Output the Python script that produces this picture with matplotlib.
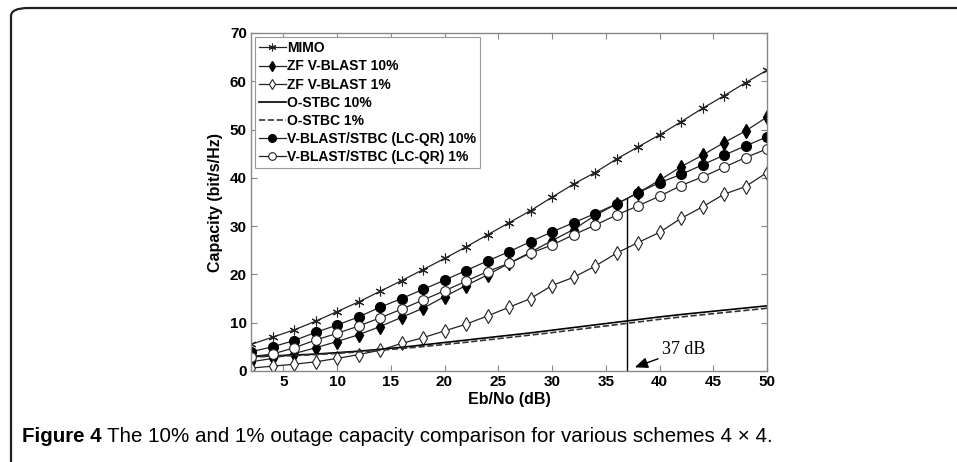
import numpy as np
import matplotlib
matplotlib.use("Agg")
import matplotlib.pyplot as plt
from matplotlib.patches import FancyBboxPatch

# Eb/No axis (dB)
ebno = np.arange(2, 51, 2)

# capacities (bit/s/Hz)
mimo = [5.5, 7.0, 8.5, 10.3, 12.3, 14.3, 16.5, 18.7, 21.0, 23.3, 25.7, 28.2, 30.7,
        33.2, 36.0, 38.7, 41.1, 43.9, 46.4, 48.9, 51.6, 54.4, 57.0, 59.7, 62.3]
zf_10 = [1.9, 2.6, 3.6, 4.8, 6.1, 7.5, 9.2, 11.1, 13.0, 15.4, 17.7, 19.9, 22.3,
         24.6, 27.0, 29.3, 32.2, 34.6, 36.9, 39.5, 42.3, 44.7, 47.3, 49.7, 52.6]
zf_1 = [0.6, 1.0, 1.4, 1.9, 2.6, 3.4, 4.3, 5.7, 6.9, 8.3, 9.7, 11.4, 13.2,
        15.0, 17.7, 19.4, 21.7, 24.4, 26.6, 28.7, 31.6, 34.0, 36.6, 38.2, 41.1]
ostbc_10 = [3.0, 3.15, 3.3, 3.5, 3.8, 4.1, 4.5, 4.9, 5.4, 5.9, 6.4, 6.9, 7.4,
            7.9, 8.45, 9.0, 9.55, 10.1, 10.65, 11.2, 11.7, 12.15, 12.6, 13.05, 13.5]
ostbc_1 = [2.9, 3.05, 3.2, 3.4, 3.65, 3.95, 4.3, 4.65, 5.05, 5.5, 5.95, 6.45, 6.95,
           7.45, 7.95, 8.5, 9.05, 9.6, 10.15, 10.7, 11.2, 11.65, 12.1, 12.55, 13.0]
lcqr_10 = [4.0, 5.0, 6.3, 8.0, 9.5, 11.2, 13.2, 15.0, 16.9, 18.8, 20.8, 22.8, 24.7,
           26.8, 28.8, 30.7, 32.6, 34.6, 36.9, 39.0, 40.7, 42.7, 44.7, 46.6, 48.5]
lcqr_1 = [3.0, 3.5, 4.8, 6.4, 7.8, 9.3, 11.0, 12.8, 14.7, 16.6, 18.6, 20.6, 22.3,
          24.4, 26.1, 28.2, 30.2, 32.3, 34.2, 36.2, 38.4, 40.2, 42.2, 44.2, 46.0]

marker_x = 37
marker_top = 35.7

plt.rcParams['font.family'] = ['Liberation Sans', 'DejaVu Sans']

fig = plt.figure(figsize=(9.57, 4.62), dpi=100)
ax = fig.add_axes([251 / 957, 1 - 371 / 462, 516 / 957, 338 / 462])

lc = '#222222'
asterisk = (6, 2, 0)
ax.plot(ebno, mimo, '-', marker=asterisk, color=lc, lw=0.9, ms=7, mec=lc, mew=0.8,
        label='MIMO')
ax.plot(ebno, zf_10, '-d', color=lc, lw=0.9, ms=7, mfc='black', mec='black',
        label='ZF V-BLAST 10%')
ax.plot(ebno, zf_1, '-d', color=lc, lw=0.9, ms=7, mfc='white', mec=lc, mew=0.8,
        label='ZF V-BLAST 1%')
ax.plot(ebno, ostbc_10, '-', color='black', lw=1.2, label='O-STBC 10%')
ax.plot(ebno, ostbc_1, '--', color='#333333', lw=1.2, label='O-STBC 1%')
ax.plot(ebno, lcqr_10, '-o', color=lc, lw=0.9, ms=7, mfc='black', mec='black',
        label='V-BLAST/STBC (LC-QR) 10%')
ax.plot(ebno, lcqr_1, '-o', color=lc, lw=0.9, ms=7, mfc='white', mec=lc, mew=0.8,
        label='V-BLAST/STBC (LC-QR) 1%')

ax.plot([marker_x, marker_x], [0, marker_top], color='black', lw=1.0)
ax.annotate('37 dB', xy=(37.7, 0.76), xytext=(40.25, 4.5),
            fontsize=13, family=['Liberation Serif', 'DejaVu Serif'], va='center',
            arrowprops=dict(arrowstyle='-|>,head_width=0.25,head_length=0.6',
                            color='black', lw=1.0, shrinkA=1, shrinkB=0))

ax.set_xlim(2, 50)
ax.set_ylim(0, 70)
ax.set_xticks(range(5, 51, 5))
ax.set_yticks(range(0, 71, 10))
ax.tick_params(direction='in', top=True, right=True, length=4, width=0.8,
               color='#888888', labelsize=11, pad=3)
for lab in ax.get_xticklabels() + ax.get_yticklabels():
    lab.set_fontweight('bold')
for sp in ax.spines.values():
    sp.set_color('#888888')
    sp.set_linewidth(1.0)

ax.set_xlabel('Eb/No (dB)', fontsize=11.5, fontweight='bold', labelpad=2)
ax.set_ylabel('Capacity (bit/s/Hz)', fontsize=11.5, fontweight='bold', labelpad=5)

leg = ax.legend(loc='upper left', bbox_to_anchor=(0.008, 0.988), borderaxespad=0,
                prop={'weight': 'bold', 'size': 10}, handlelength=1.9,
                handletextpad=0.1, labelspacing=0.3, borderpad=0.3,
                fancybox=False, framealpha=1, edgecolor='#999999')
leg.get_frame().set_linewidth(0.8)
for h in leg.legend_handles:
    h.set_markersize(5.5)

# caption
cap_y = 1 - 436 / 462
t1 = fig.text(22 / 957, cap_y, 'Figure 4', fontsize=14.8, fontweight='bold', va='center')
fig.canvas.draw()
bb = t1.get_window_extent()
fig.text((bb.x1 + 5) / 957, cap_y,
         'The 10% and 1% outage capacity comparison for various schemes 4 \u00d7 4.',
         fontsize=14.8, va='center')

# rounded frame (only top and left edges visible)
frame = FancyBboxPatch((11 / 957, -30 / 462), 1.2, (462 + 30 - 8) / 462,
                       boxstyle='round,pad=0,rounding_size=0.018',
                       transform=fig.transFigure, fill=False,
                       edgecolor='#222222', lw=1.6, clip_on=False)
fig.patches.append(frame)

fig.savefig('out.png', dpi=100)
